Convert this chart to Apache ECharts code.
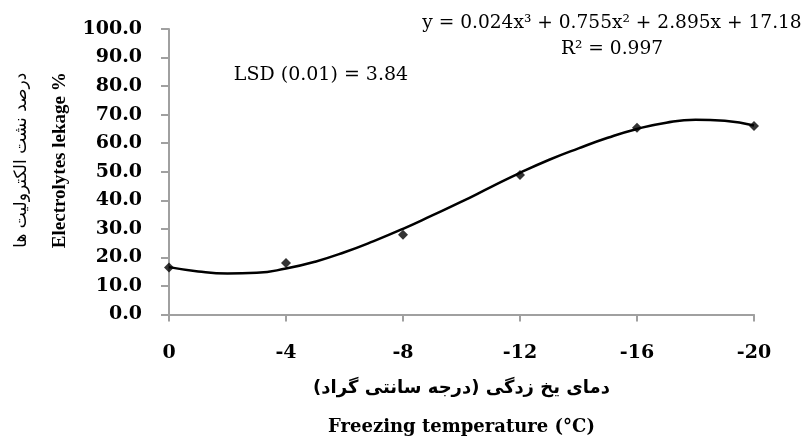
<!DOCTYPE html>
<html>
<head>
<meta charset="utf-8">
<script src="https://cdn.jsdelivr.net/npm/echarts@6/dist/echarts.min.js"></script>
<style>
html,body{margin:0;padding:0;background:#fff;}
#chart{width:803px;height:441px;}
</style>
</head>
<body>
<div id="chart"></div>
<script>
// Observed points (temperature °C, electrolyte leakage %)
const temps = [0, -4, -8, -12, -16, -20];
const leakage = [16.5, 18.0, 27.9, 48.9, 65.4, 66.0];
// Trend curve, one reading per degree
const fitTemps = [0, -1, -2, -3, -4, -5, -6, -7, -8, -9, -10, -11, -12, -13, -14, -15, -16, -17, -18, -19, -20];
const fitValues = [16.6, 15.1, 14.4, 14.6, 16.1, 18.5, 21.8, 25.7, 30.0, 34.7, 39.5, 44.6, 49.6, 54.2, 58.2, 61.9, 65.0, 67.2, 68.2, 67.9, 66.2];
// Axis ticks
const xTicks = [0, -4, -8, -12, -16, -20];
const yTicks = [0, 10, 20, 30, 40, 50, 60, 70, 80, 90, 100];
// Texts
const equationText = 'y = 0.024x³ + 0.755x² + 2.895x + 17.18';
const r2Text = 'R² = 0.997';
const lsdText = 'LSD (0.01) = 3.84';
const yNameFa = 'درصد نشت الکترولیت ها';
const yNameEn = 'Electrolytes lekage %';
const xNameFa = '\u200Fدمای یخ زدگی (درجه سانتی گراد)\u200F';
const xNameEn = 'Freezing temperature (°C)';

const chart = echarts.init(document.getElementById('chart'), null, {renderer: 'canvas'});
const axisGray = '#a0a0a0';
const serif = 'DejaVu Serif';

chart.setOption({
  animation: false,
  backgroundColor: '#fff',
  grid: {left: 169, top: 29, width: 585, height: 287},
  title: [
    {text: equationText, left: 607, top: 9, textAlign: 'center',
     textStyle: {fontFamily: serif, fontWeight: 'normal', fontSize: 18.6, color: '#000'}},
    {text: r2Text, left: 607, top: 35, textAlign: 'center',
     textStyle: {fontFamily: serif, fontWeight: 'normal', fontSize: 18.6, color: '#000'}},
    {text: lsdText, left: 316, top: 61, textAlign: 'center',
     textStyle: {fontFamily: serif, fontWeight: 'normal', fontSize: 19, color: '#000'}}
  ],
  xAxis: {
    type: 'value',
    min: xTicks[xTicks.length - 1],
    max: xTicks[0],
    interval: 4,
    inverse: true,
    axisLine: {show: true, lineStyle: {color: axisGray, width: 2}},
    axisTick: {show: true, length: 7, lineStyle: {color: axisGray, width: 2}},
    splitLine: {show: false},
    axisLabel: {
      margin: 29,
      fontFamily: serif, fontWeight: 'bold', fontSize: 19, color: '#000',
      formatter: v => String(v)
    },
    name: '{fa|' + xNameFa + '}\n{en|' + xNameEn + '}',
    nameLocation: 'middle',
    nameGap: 54,
    nameTextStyle: {
      rich: {
        fa: {fontFamily: 'DejaVu Sans', fontWeight: 'bold', fontSize: 18, lineHeight: 39, color: '#000'},
        en: {fontFamily: serif, fontWeight: 'bold', fontSize: 18, lineHeight: 39, color: '#000'}
      }
    }
  },
  yAxis: {
    type: 'value',
    min: yTicks[0],
    max: yTicks[yTicks.length - 1],
    interval: 10,
    axisLine: {show: true, lineStyle: {color: axisGray, width: 2}},
    axisTick: {show: true, length: 8, lineStyle: {color: axisGray, width: 2}},
    splitLine: {show: false},
    axisLabel: {
      margin: 27,
      fontFamily: serif, fontWeight: 'bold', fontSize: 19, color: '#000',
      formatter: v => v.toFixed(1)
    },
    name: '{fa|' + yNameFa + '}\n{en|' + yNameEn + '}',
    nameLocation: 'middle',
    nameRotate: 90,
    nameGap: 90,
    nameTextStyle: {
      padding: [0, 0, 0, 23],
      rich: {
        fa: {fontFamily: 'DejaVu Sans', fontWeight: 'normal', fontSize: 17, lineHeight: 38, color: '#000'},
        en: {fontFamily: 'Liberation Serif', fontWeight: 'bold', fontSize: 19, lineHeight: 38, color: '#000'}
      }
    }
  },
  series: [
    {
      name: 'trend',
      type: 'line',
      data: fitTemps.map((t, i) => [t, fitValues[i]]),
      smooth: true,
      showSymbol: false,
      symbol: 'none',
      lineStyle: {color: '#000', width: 2.5},
      z: 2
    },
    {
      name: 'observed',
      type: 'scatter',
      data: temps.map((t, i) => [t, leakage[i]]),
      symbol: 'diamond',
      symbolSize: 10,
      itemStyle: {color: '#000'},
      z: 3
    }
  ]
});
</script>
</body>
</html>
